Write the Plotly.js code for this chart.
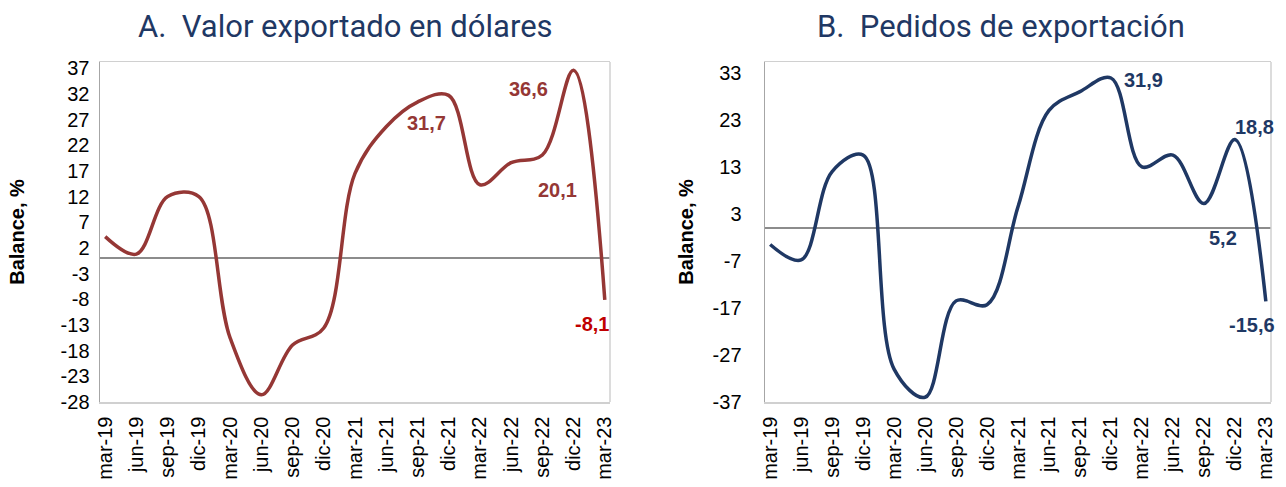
<!DOCTYPE html>
<html><head><meta charset="utf-8">
<script src="https://cdn.plot.ly/plotly-3.0.1.min.js"></script>
<style>html,body{margin:0;padding:0;background:#fff}</style>
</head><body><div id="chart" style="width:1286px;height:487px"></div>
<script>
// ---- data ----
const quarters = ["mar-19","jun-19","sep-19","dic-19","mar-20","jun-20","sep-20","dic-20","mar-21","jun-21","sep-21","dic-21","mar-22","jun-22","sep-22","dic-22","mar-23"];
const valorExportado = [4.2, 0.8, 12, 12, -15.5, -26.6, -16.9, -13.6, 16.5, 25.6, 30.4, 31.7, 14.3, 18.6, 20.1, 36.6, -8.1];
const pedidosExportacion = [-3.5, -6.8, 12, 15.5, -30, -36, -15.5, -16.3, 4.5, 25, 29, 31.9, 13, 15.5, 5.2, 18.8, -15.6];
const ticksA = [-28,-23,-18,-13,-8,-3,2,7,12,17,22,27,32,37];
const ticksB = [-37,-27,-17,-7,3,13,23,33];
const labeledA = ["dic-21","sep-22","dic-22","mar-23"];
const labeledB = ["dic-21","sep-22","dic-22","mar-23"];
const titleA = "A.\u00a0\u00a0Valor exportado en dólares";
const titleB = "B.\u00a0\u00a0Pedidos de exportación";
const yTitle = "Balance, %";

// ---- styles ----
const colA = "#953735", colB = "#1F3864", redLbl = "#C00000", navyTitle = "#1F3864";
const tickFont = {family:"Liberation Sans, Arial", size:20, color:"#000"};
const lblFont = {family:"Liberation Sans, Arial", size:20};
const shiftsA = {"dic-21":[-22,-28], "sep-22":[15,-35], "dic-22":[-45,-19], "mar-23":[-13,-24]};
const shiftsB = {"dic-21":[33,-2], "sep-22":[19,-34], "dic-22":[20,13], "mar-23":[-14,-24]};
const fmt = v => v.toFixed(1).replace(".", ",");

const W = 1286, H = 487;
const yDom = [1-402/H, 1-62/H];

function mkAnn(list, vals, shifts, xr, yr, col, lastCol){
  return list.map(q => {
    const i = quarters.indexOf(q);
    return {x:q, y:vals[i], xref:xr, yref:yr, text:"<b>"+fmt(vals[i])+"</b>", showarrow:false,
      xshift:shifts[q][0], yshift:shifts[q][1],
      font:Object.assign({}, lblFont, {color:(q==="mar-23" && lastCol)?lastCol:col})};
  });
}

const traces = [
  {x:quarters, y:valorExportado, type:"scatter", mode:"lines", line:{color:colA, width:3.5, shape:"spline", smoothing:1}, xaxis:"x", yaxis:"y", hoverinfo:"skip"},
  {x:quarters, y:pedidosExportacion, type:"scatter", mode:"lines", line:{color:colB, width:3.5, shape:"spline", smoothing:1}, xaxis:"x2", yaxis:"y2", hoverinfo:"skip"}
];

const xCommon = {type:"category", range:[-1/6, 16+1/6], tickangle:-90, tickfont:tickFont, showgrid:false, zeroline:false,
  showline:true, linecolor:"#D0D0D0", linewidth:1.5, mirror:true, ticks:"outside", ticklen:5, tickcolor:"rgba(0,0,0,0)", fixedrange:true};
const yTitleFont = {family:"Liberation Sans, Arial", size:20, color:"#000"};
const yCommon = {showgrid:false, zeroline:true, zerolinecolor:"#8C8C8C", zerolinewidth:1.5, showline:true, linecolor:"#A6A6A6", linewidth:1.5,
  tickfont:tickFont, ticks:"outside", tickcolor:"rgba(0,0,0,0)", fixedrange:true};

const layout = {
  width:W, height:H, margin:{l:0,r:0,t:0,b:0}, paper_bgcolor:"#fff", plot_bgcolor:"#fff", showlegend:false,
  xaxis:Object.assign({}, xCommon, {domain:[100/W, 610/W], anchor:"y"}),
  yaxis:Object.assign({}, yCommon, {domain:yDom, anchor:"x", range:[-28, 38.2], tickvals:ticksA, ticktext:ticksA.map(String), ticklen:5,
    title:{text:"<b>"+yTitle+"</b>", font:yTitleFont, standoff:30}}),
  xaxis2:Object.assign({}, xCommon, {domain:[765/W, 1271/W], anchor:"y2"}),
  yaxis2:Object.assign({}, yCommon, {domain:yDom, anchor:"x2", range:[-37, 35.3], tickvals:ticksB, ticktext:ticksB.map(String), ticklen:18,
    title:{text:"<b>"+yTitle+"</b>", font:yTitleFont, standoff:13}}),
  shapes:[
    {type:"line", xref:"x domain", yref:"y domain", x0:1, x1:1, y0:0, y1:1, line:{color:"#D0D0D0", width:1.5}},
    {type:"line", xref:"x2 domain", yref:"y2 domain", x0:1, x1:1, y0:0, y1:1, line:{color:"#D0D0D0", width:1.5}}
  ],
  annotations:[
    {text:titleA, xref:"paper", yref:"paper", x:345/W, y:1-27/H, showarrow:false, xanchor:"center", yanchor:"middle", font:{family:"Roboto, Liberation Sans", size:31, color:navyTitle}},
    {text:titleB, xref:"paper", yref:"paper", x:1001/W, y:1-27/H, showarrow:false, xanchor:"center", yanchor:"middle", font:{family:"Roboto, Liberation Sans", size:31, color:navyTitle}}
  ].concat(mkAnn(labeledA, valorExportado, shiftsA, "x", "y", colA, redLbl))
   .concat(mkAnn(labeledB, pedidosExportacion, shiftsB, "x2", "y2", colB, null))
};

Plotly.newPlot("chart", traces, layout, {displayModeBar:false, staticPlot:true});
</script></body></html>
